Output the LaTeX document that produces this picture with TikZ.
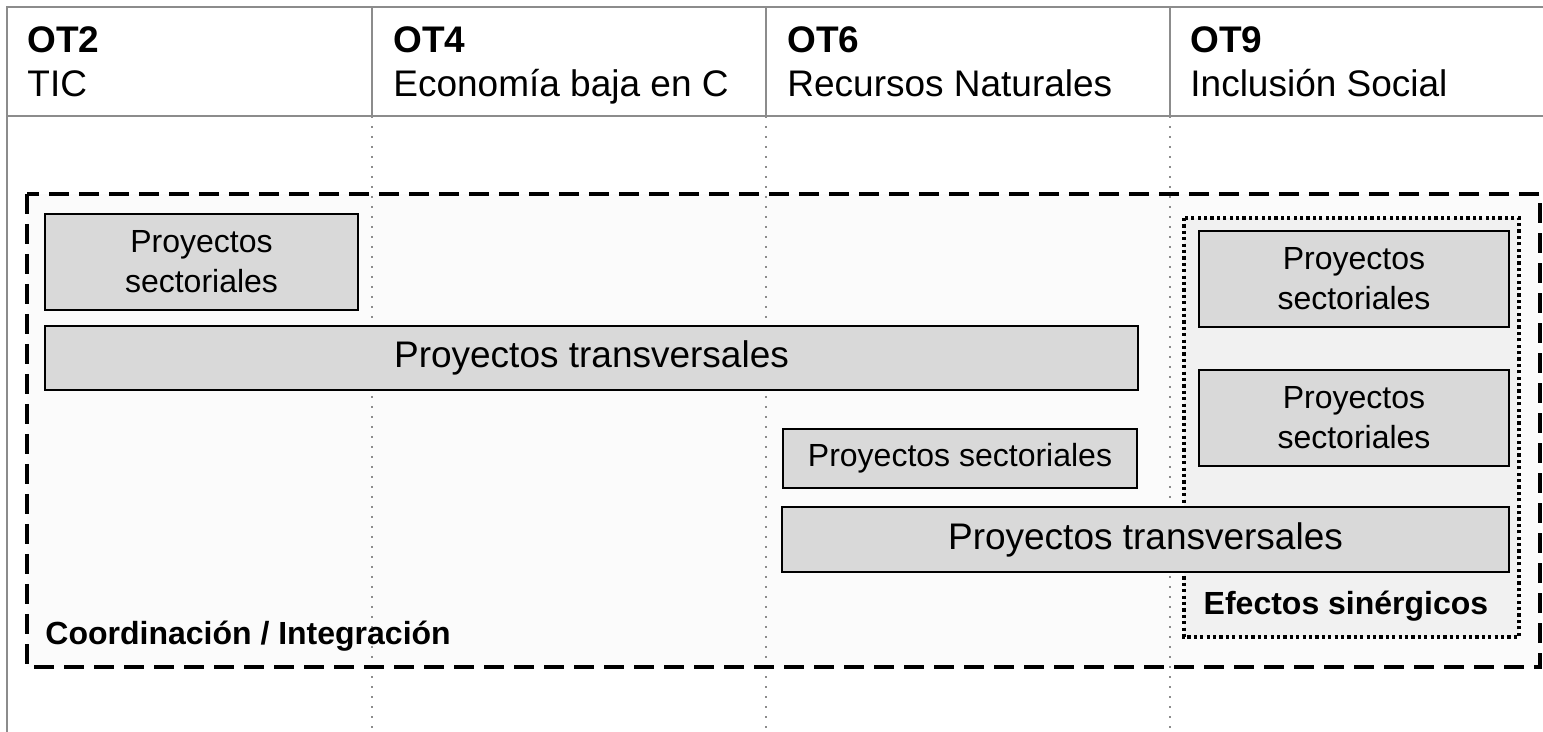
\documentclass[tikz,border=0pt]{standalone}
\usepackage{fontspec}
\setmainfont{Liberation Sans}
\begin{document}
\begin{tikzpicture}[x=0.5pt,y=-0.5pt,
  gridline/.style={draw=gray!90, line width=1pt},
  coldots/.style={draw=gray!90, line width=1pt, dash pattern=on 1pt off 4pt},
  hdr/.style={anchor=base west, inner sep=0pt, font=\fontsize{18.5}{22}\selectfont},
  pbox/.style={draw=black, line width=1pt, fill=boxgray, anchor=north west, inner sep=0pt, align=center},
  small/.style={font=\fontsize{16}{20}\selectfont},
  large/.style={font=\fontsize{18.5}{22}\selectfont},
]
\definecolor{boxgray}{HTML}{D9D9D9}
\definecolor{outerfill}{HTML}{FBFBFB}
\definecolor{synfill}{HTML}{F1F1F1}
\useasboundingbox (0,0) rectangle (1543,732);
\fill[white] (0,0) rectangle (1543,732);
% outer coordination area fill
\fill[outerfill] (27,194) rectangle (1540,667);
% column dotted lines
\foreach \x in {372,766,1170} \draw[coldots] (\x,116) -- (\x,732);
% synergy dotted box
\draw[fill=synfill, line width=1.6pt, dash pattern=on 1.6pt off 1.6pt] (1184,218) rectangle (1519,637);
% outer dashed border
\draw[line width=1.6pt, dash pattern=on 10pt off 5pt] (27,194) rectangle (1540,667);
% header grid
\draw[gridline] (1543,7) -- (7,7) -- (7,732);
\draw[gridline] (7,116) -- (1543,116);
\foreach \x in {372,766,1170} \draw[gridline] (\x,7) -- (\x,116);
% header texts
\node[hdr] (h1a) at (27,53) {\textbf{OT2}};
\node[hdr] (h1b) at (27,97) {TIC};
\node[hdr] (h2a) at (393,53) {\textbf{OT4}};
\node[hdr] (h2b) at (393,97) {Economía baja en C};
\node[hdr] (h3a) at (787,53) {\textbf{OT6}};
\node[hdr] (h3b) at (787,97) {Recursos Naturales};
\node[hdr] (h4a) at (1190,53) {\textbf{OT9}};
\node[hdr] (h4b) at (1190,97) {Inclusión Social};
% project boxes
\node[pbox, small, minimum width=156.5pt, minimum height=48pt] (s1) at (44,213) {Proyectos\\sectoriales};
\node[pbox, large, minimum width=546.5pt, minimum height=32pt] (t1) at (44,325) {Proyectos transversales};
\node[pbox, small, minimum width=177pt, minimum height=29.5pt] (s2) at (782,428) {Proyectos sectoriales};
\node[pbox, large, minimum width=363.5pt, minimum height=32.5pt] (t2) at (781,506) {Proyectos transversales};
\node[pbox, small, minimum width=155pt, minimum height=48pt] (s3) at (1198,230) {Proyectos\\sectoriales};
\node[pbox, small, minimum width=155pt, minimum height=48pt] (s4) at (1198,369) {Proyectos\\sectoriales};
% labels
\node[anchor=base west, inner sep=0pt, font=\fontsize{16}{20}\selectfont\bfseries] (coord) at (45,644) {Coordinación / Integración};
\node[inner sep=0pt, font=\fontsize{16}{20}\selectfont\bfseries] (syn) at (1346,606) {Efectos sinérgicos};
\end{tikzpicture}
\end{document}
